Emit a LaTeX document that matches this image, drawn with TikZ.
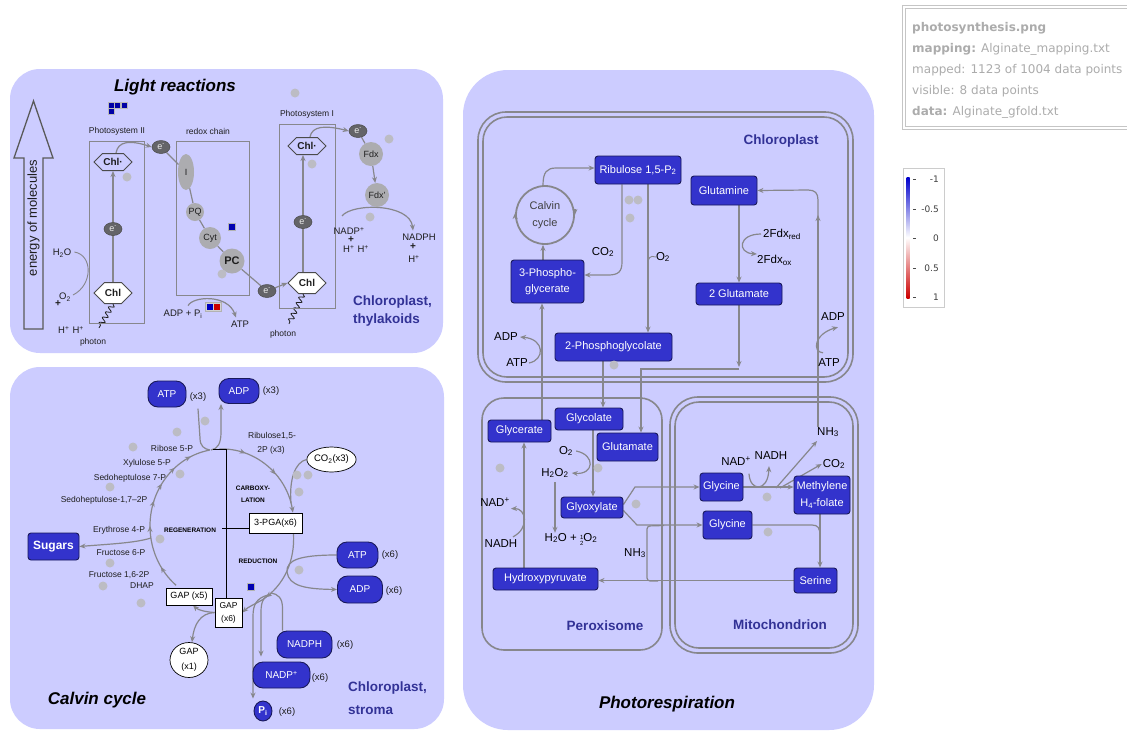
\documentclass[tikz,border=0pt]{standalone}
\usepackage{fontspec}
\setmainfont{Liberation Sans}
\newfontfamily\legendfont{DejaVu Sans}
\usetikzlibrary{arrows.meta,shapes.geometric,shapes.symbols,decorations.pathmorphing,decorations.markings}
\pgfdeclarelayer{bg}
\pgfdeclarelayer{mid}
\pgfsetlayers{bg,mid,main}

\definecolor{panel}{RGB}{204,204,255}
\definecolor{boxblue}{RGB}{51,51,204}
\definecolor{boxedge}{RGB}{25,25,90}
\definecolor{lineg}{RGB}{135,135,140}
\definecolor{dotg}{RGB}{188,188,196}
\definecolor{labblue}{RGB}{50,50,150}
\definecolor{molg}{RGB}{172,172,176}
\definecolor{egray}{RGB}{100,100,104}
\definecolor{leggray}{RGB}{172,172,172}
\definecolor{darktext}{RGB}{30,30,30}

\newcommand{\sz}[1]{\fontsize{#1}{#1}\selectfont}
\newcommand{\halfstack}{\raisebox{-1.5pt}{\sz{6}\begin{tabular}{@{}c@{}}1\\2\end{tabular}}}

\tikzset{
  gtip/.tip={Stealth[length=6pt,width=5pt]},
  compart/.style={draw=lineg, line width=1.6pt},
  bluebox/.style={draw=boxedge, fill=boxblue, text=white, rounded corners=3pt, line width=0.9pt, inner sep=0pt, align=center, font=\sz{11}},
  pill/.style={bluebox, rounded corners=10pt, font=\sz{10}},
  whitebox/.style={draw=black, fill=white, line width=0.7pt, inner sep=0pt, align=center, font=\sz{9}},
  conn/.style={draw=lineg, color=lineg, line width=1.2pt},
  arr/.style={conn, -gtip},
  gdot/.style={circle, fill=dotg, minimum size=9pt, inner sep=0pt},
  mol/.style={circle, fill=molg, inner sep=0pt, font=\sz{9}, text=darktext},
  elec/.style={ellipse, fill=egray, draw=black!70, line width=0.5pt, minimum width=18pt, minimum height=13pt, inner sep=0pt, text=white!85!gray, font=\sz{9}},
  chlstar/.style={signal, signal to=east and west, draw=darktext!80, line width=1pt, fill=panel, minimum width=38pt, minimum height=17pt, inner sep=0pt, font=\bfseries\sz{10}, text=darktext},
  chl/.style={chlstar, fill=white, minimum height=21pt},
  lbl/.style={inner sep=0pt, font=\sz{9.5}, text=darktext},
  plbl/.style={inner sep=0pt, font=\sz{11.5}, text=black},
  small/.style={inner sep=0pt, font=\sz{8.5}, text=darktext},
  caps/.style={inner sep=0pt, font=\bfseries\sz{6.5}, text=black},
  comptitle/.style={inner sep=0pt, font=\bfseries\sz{13.5}, text=labblue},
  maintitle/.style={inner sep=0pt, font=\bfseries\itshape\sz{17}, text=black},
  psbox/.style={draw=lineg, line width=1pt},
  wave/.style={draw=darktext, line width=0.8pt, decorate, decoration={snake, amplitude=2.5pt, segment length=6pt}},
}

\begin{document}
\begin{tikzpicture}[x=1pt,y=-1pt]
\useasboundingbox (0,0) rectangle (1127,732);

% ---------------- background, panels and compartments
\begin{pgfonlayer}{bg}
\fill[white] (0,0) rectangle (1127,732);
\fill[panel, rounded corners=30pt] (10,69) rectangle (443,353);
\fill[panel, rounded corners=30pt] (10,367) rectangle (444,729);
\fill[panel, rounded corners=45pt] (463,70) rectangle (874,730);
\draw[compart, rounded corners=28pt] (478,112) rectangle (853,382);
\draw[compart, rounded corners=24pt] (483,117) rectangle (848,377);
\draw[compart, rounded corners=22pt] (482,398) rectangle (662,650);
\draw[compart, rounded corners=28pt] (670,397) rectangle (858,653);
\draw[compart, rounded corners=24pt] (675,402) rectangle (853,648);
\end{pgfonlayer}

% ================= Light reactions
\node[maintitle] (lrtitle) at (175,87) {Light reactions};
\draw[draw=black!65, line width=1.3pt, fill=panel, line join=miter]
  (33.5,101) -- (53,158) -- (43,158) -- (43,329) -- (24,329) -- (24,158) -- (14,158) -- cycle;
\node[rotate=90, inner sep=0pt, font=\sz{13}, text=darktext] (energy) at (33.5,218) {energy of molecules};
\foreach \x/\y in {108/102, 114.5/102, 121/102, 108/108.5}
  \draw[fill=blue!65!black, draw=gray!55, line width=0.6pt] (\x,\y) rectangle ++(6,6);

\node[small] (ps2lab) at (117,131) {Photosystem II};
\node[small] (redoxlab) at (208,131) {redox chain};
\node[small] (ps1lab) at (307,114) {Photosystem I};
\draw[psbox] (89,141) rectangle (144,323);
\draw[psbox] (176,141) rectangle (249,295);
\draw[psbox] (279,124) rectangle (335,308);

\node[chlstar] (chlS2) at (113,162) {Chl·};
\node[chl] (chl2) at (113,293) {Chl};
\node[elec] (e2mid) at (113,229) {e\textsuperscript{-}};
\node[elec] (e2top) at (161,147) {e\textsuperscript{-}};
\node[mol, ellipse, minimum width=16pt, minimum height=36pt] (cI) at (186,172) {I};
\node[mol, minimum size=18pt] (pq) at (195,212) {PQ};
\node[mol, minimum size=22pt] (cyt) at (210,238) {Cyt};
\node[mol, minimum size=25pt, font=\bfseries\sz{11}] (pc) at (232,261) {PC};
\node[elec] (eb) at (267,291) {e\textsuperscript{-}};
\node[chlstar] (chlS1) at (307,146) {Chl·};
\node[chl] (chl1) at (307,283) {Chl};
\node[elec] (e1mid) at (303,222) {e\textsuperscript{-}};
\node[elec] (e1top) at (358,131) {e\textsuperscript{-}};
\node[mol, minimum size=24pt] (fdx) at (371,154) {Fdx};
\node[mol, minimum size=24pt] (fdxr) at (377,195) {Fdx'};

\foreach \p [count=\i] in {(127,177),(222,274),(312,164),(389,139),(295,93),(370,217)}
  \node[gdot] (ld\i) at \p {};

\draw[fill=blue!70!black, draw=gray!60, line width=0.6pt] (228.5,223.5) rectangle ++(7,7);
\draw[fill=gray!35, draw=gray!60, line width=0.5pt] (205.5,302) rectangle (221,311);
\fill[blue!75!black] (207,304) rectangle (213,310);
\fill[red!80!black] (213.5,304) rectangle (219.5,310);

\node[lbl] (h2o) at (62,253) {H\textsubscript{2}O};
\node[lbl] (o2a) at (65,297) {O\textsubscript{2}};
\node[lbl, font=\bfseries\sz{10}] (plusA) at (58,304) {+};
\node[lbl] (hhA) at (71,330) {H\textsuperscript{+}\,\,H\textsuperscript{+}};
\node[small] (ph2) at (93,342) {photon};
\node[lbl] (adppi) at (183,314) {ADP + P\textsubscript{i}};
\node[lbl] (atpA) at (240,324) {ATP};
\node[small] (ph1) at (283,334) {photon};
\node[lbl] (nadpA) at (349,231) {NADP\textsuperscript{+}};
\node[lbl, font=\bfseries\sz{10}] (plusB) at (351,240) {+};
\node[lbl] (hhB) at (356,249) {H\textsuperscript{+}\,\,H\textsuperscript{+}};
\node[lbl] (nadphA) at (419,237) {NADPH};
\node[lbl, font=\bfseries\sz{10}] (plusC) at (413,247) {+};
\node[lbl] (hC) at (414,259) {H\textsuperscript{+}};
\node[comptitle, anchor=west] (thyl1) at (353,302) {Chloroplast,};
\node[comptitle, anchor=west] (thyl2) at (353,320) {thylakoids};

\begin{pgfonlayer}{mid}
\draw[arr] (chl2.north) -- (chlS2.south);
\draw[arr] ([xshift=3pt]chlS2.north) .. controls (118,141) and (130,140) .. (e2top.west);
\draw[conn] (e2top) -- (cI) -- (pq) -- (cyt) -- (pc) -- (eb);
\draw[arr] (eb) -- (chl1.west);
\draw[arr] ([xshift=-4pt]chl1.north) -- ([xshift=-4pt]chlS1.south);
\draw[arr] ([xshift=3pt]chlS1.north) .. controls (312,126) and (325,125) .. (e1top.west);
\draw[conn] (e1top) -- (fdx);
\draw[arr] (fdx) -- (fdxr);
\draw[arr] ([xshift=-7pt,yshift=11pt]nadpA.north) .. controls (352,203) and (410,203) .. ([xshift=-6pt,yshift=3pt]nadphA.north);
\draw[arr] ([xshift=5pt,yshift=4pt]adppi.north) .. controls (193,296) and (228,294) .. ([xshift=-4pt,yshift=3pt]atpA.north);
\draw[conn, line width=0.9pt] ([xshift=3pt,yshift=1pt]h2o.east) .. controls (93,255) and (93,285) .. ([xshift=2pt,yshift=2pt]o2a.east);
\draw[wave] (chl2.south) -- ([xshift=6pt,yshift=10pt]ph2.north);
\draw[wave] ([xshift=-4pt]chl1.south) -- ([xshift=6pt,yshift=6pt]ph1.north);
\end{pgfonlayer}

% ================= Calvin cycle
\node[maintitle] (cctitle) at (97,700) {Calvin cycle};
\node[pill, minimum width=38pt, minimum height=26pt] (atp3) at (167,394) {ATP};
\node[pill, minimum width=40pt, minimum height=25pt] (adp3) at (239,391) {ADP};
\node[lbl] (x3a) at (198,397) {(x3)};
\node[lbl] (x3b) at (271,391) {(x3)};
\node[bluebox, font=\bfseries\sz{12}, minimum width=51pt, minimum height=27pt] (sugars) at (53.5,546.5) {Sugars};
\node[pill, minimum width=41pt, minimum height=26pt] (atp6) at (357.5,555) {ATP};
\node[pill, minimum width=45pt, minimum height=27pt] (adp6) at (360,589.5) {ADP};
\node[pill, minimum width=55pt, minimum height=27pt] (nadph6) at (304.5,644.5) {NADPH};
\node[pill, minimum width=57pt, minimum height=26pt] (nadp6) at (281.5,675) {NADP\textsuperscript{+}};
\node[ellipse, draw=boxedge, fill=boxblue, line width=0.9pt, text=white, inner sep=0pt, minimum width=18pt, minimum height=20pt, font=\bfseries\sz{10}] (pi6) at (263,711) {P\textsubscript{i}};
\node[lbl] (x6a) at (390,555) {(x6)};
\node[lbl] (x6b) at (394,591) {(x6)};
\node[lbl] (x6c) at (345,645) {(x6)};
\node[lbl] (x6d) at (320,678) {(x6)};
\node[lbl] (x6e) at (287,712) {(x6)};

\node[whitebox, minimum width=53pt, minimum height=20pt] (pga) at (275.5,523) {3-PGA(x6)};
\node[whitebox, minimum width=27pt, minimum height=29pt, font=\fontsize{8.5}{13}\selectfont] (gap6) at (228.5,612.5) {GAP\\(x6)};
\node[whitebox, minimum width=46pt, minimum height=17pt] (gap5) at (189,596.5) {GAP (x5)};
\node[whitebox, ellipse, minimum width=38pt, minimum height=35pt, font=\fontsize{9}{15}\selectfont] (gap1) at (189,660) {GAP\\(x1)};
\node[whitebox, ellipse, minimum width=47pt, minimum height=25pt, font=\sz{9.5}] (co2c) at (331.5,459.5) {CO\textsubscript{2}(x3)};

\node[small] (rib5) at (172,448) {Ribose 5-P};
\node[small] (xyl5) at (147,463) {Xylulose 5-P};
\node[small] (sed7) at (130,478) {Sedoheptulose 7-P};
\node[small] (sed17) at (104,500) {Sedoheptulose-1,7–2P};
\node[small] (ery4) at (119,530) {Erythrose 4-P};
\node[small] (fru6) at (121,553) {Fructose 6-P};
\node[small] (fru16) at (119,575) {Fructose 1,6-2P};
\node[small] (dhap) at (142,586) {DHAP};
\node[small] (rubp) at (272,436) {Ribulose1,5-};
\node[small] (rubp2) at (271,450) {2P (x3)};
\node[caps, align=center, font=\bfseries\fontsize{6.5}{12}\selectfont] (carb) at (253,494) {CARBOXY-\\LATION};
\node[caps] (regen) at (190,530) {REGENERATION};
\node[caps] (reduc) at (258,561) {REDUCTION};
\node[comptitle, anchor=west] (str1) at (348,688) {Chloroplast,};
\node[comptitle, anchor=west] (str2) at (348,710) {stroma};

\foreach \p [count=\i] in {(205,421),(177,432),(133,447),(180,474),(110,487),(160,539),(110,563),(103,586),(141,603),(297,475),(308,475),(299,492),(299,570)}
  \node[gdot] (cd\i) at \p {};
\draw[fill=blue!70!black, draw=gray!60, line width=0.6pt] (247.5,583.5) rectangle ++(7,7);

\begin{pgfonlayer}{mid}
% cycle, right half: regeneration product to carboxylation
\draw[arr, postaction={decorate}, decoration={markings,
   mark=at position 0.25 with {\arrow{gtip}}, mark=at position 0.6 with {\arrow{gtip}}}]
  (219.5,449) arc[start angle=92, end angle=10, x radius=72pt, y radius=77pt];
% reduction
\draw[arr, postaction={decorate}, decoration={markings, mark=at position 0.72 with {\arrow{gtip}}}]
  ([xshift=18pt]pga.south) .. controls (295,560) and (285,585) .. (262,600) .. controls (255,604) and (248,607) .. (gap6.east);
% regeneration
\draw[conn, postaction={decorate}, decoration={markings,
   mark=at position 0.14 with {\arrow{gtip}}, mark=at position 0.39 with {\arrow{gtip}},
   mark=at position 0.54 with {\arrow{gtip}}, mark=at position 0.65 with {\arrow{gtip}},
   mark=at position 0.77 with {\arrow{gtip}}, mark=at position 0.885 with {\arrow{gtip}}}]
  (176.1,585.3) arc[start angle=230.4, end angle=100, x radius=72pt, y radius=77pt];
\draw[arr] (151,538) .. controls (135,543) and (110,544) .. (sugars.east);
\draw[conn] ([yshift=-7pt]x3a.south) -- (200,438) .. controls (200,446) and (204,449) .. (210,450);
\draw[arr] (211,450) .. controls (218,449) and (221,443) .. (221,432) -- ([xshift=-18pt]adp3.south);
\draw[conn] (co2c.west) .. controls (295,462) and (289,480) .. (291,503);
\draw[arr] (atp6.west) .. controls (300,555) and (286,560) .. (287,572) .. controls (289,586) and (305,589) .. (adp6.west);
\draw[conn] ([xshift=-22pt]nadph6.north) -- (282.5,608) .. controls (282.5,598) and (278,594) .. (271,593);
\draw[arr] (271,594) .. controls (264,596) and (261,601) .. (261,612) -- ([xshift=-20.5pt,yshift=5pt]nadp6.north);
\draw[arr] (268,595) .. controls (257,598) and (253,604) .. (253,616) -- ([xshift=-10pt,yshift=2pt]pi6.north);
\draw[arr] (gap6.west) .. controls (206,612) and (198,610) .. ([xshift=4pt]gap5.south);
\draw[arr] (gap6.west) .. controls (200,613) and (194,625) .. ([xshift=3pt]gap1.north);
\draw[black, line width=0.8pt] (213,449) -- (226,449) -- (226,598);
\draw[black, line width=0.8pt] (222,528) -- (pga.west |- 0,528);
\end{pgfonlayer}

% ================= Photorespiration
\node[maintitle] (prtitle) at (667,704) {Photorespiration};
\node[comptitle] (chlab) at (781,141) {Chloroplast};
\node[comptitle] (perlab) at (605,626) {Peroxisome};
\node[comptitle] (mitlab) at (780,625) {Mitochondrion};

\node[bluebox, minimum width=86pt, minimum height=28pt] (ribu) at (638,170) {Ribulose 1,5-P\textsubscript{2}};
\node[circle, draw=lineg, line width=1.8pt, minimum size=58pt, inner sep=0pt, align=center, font=\fontsize{11}{17}\selectfont, text=darktext!85] (calv) at (545,215) {Calvin\\cycle};
\node[bluebox, minimum width=73pt, minimum height=43pt, font=\fontsize{11}{16}\selectfont] (pga3) at (547.5,281.5) {3-Phospho-\\glycerate};
\node[bluebox, minimum width=117pt, minimum height=28pt] (pglyc2) at (613.5,347) {2-Phosphoglycolate};
\node[bluebox, minimum width=66pt, minimum height=29pt] (glutamine) at (724,190.5) {Glutamine};
\node[bluebox, minimum width=86pt, minimum height=22pt] (glu2) at (739,294) {2 Glutamate};
\node[bluebox, minimum width=63pt, minimum height=22pt] (glycerate) at (519.5,431) {Glycerate};
\node[bluebox, minimum width=68pt, minimum height=22pt] (glycolate) at (589,419) {Glycolate};
\node[bluebox, minimum width=61pt, minimum height=28pt] (glutamate) at (627.5,447) {Glutamate};
\node[bluebox, minimum width=62pt, minimum height=21pt] (glyox) at (592,507.5) {Glyoxylate};
\node[bluebox, minimum width=105pt, minimum height=22pt] (hydroxy) at (545.5,579) {Hydroxypyruvate};
\node[bluebox, minimum width=43pt, minimum height=28pt] (gly1) at (721.5,487) {Glycine};
\node[bluebox, minimum width=49pt, minimum height=28pt] (gly2) at (727.5,525) {Glycine};
\node[bluebox, minimum width=56pt, minimum height=38pt, font=\fontsize{11}{17}\selectfont] (methyl) at (822,495) {Methylene\\H\textsubscript{4}-folate};
\node[bluebox, minimum width=43pt, minimum height=25pt] (serine) at (815.5,580.5) {Serine};

\node[plbl] (co2p) at (603,252) {CO\textsubscript{2}};
\node[plbl] (o2p) at (663,257) {O\textsubscript{2}};
\node[plbl] (adpL) at (506,337) {ADP};
\node[plbl] (atpL) at (517,363) {ATP};
\node[plbl, anchor=west] (fdxred) at (763,234) {2Fdx\textsubscript{red}};
\node[plbl, anchor=west] (fdxox) at (757,260) {2Fdx\textsubscript{ox}};
\node[plbl] (adpR) at (833,317) {ADP};
\node[plbl] (atpR) at (829,363) {ATP};
\node[plbl] (nadP) at (495,502) {NAD\textsuperscript{+}};
\node[plbl] (nadhP) at (501,544) {NADH};
\node[plbl] (o2x) at (566,451) {O\textsubscript{2}};
\node[plbl] (h2o2) at (555,473) {H\textsubscript{2}O\textsubscript{2}};
\node[plbl] (h2oh) at (571,540) {H\textsubscript{2}O + \halfstack O\textsubscript{2}};
\node[plbl] (nh3a) at (635,553) {NH\textsubscript{3}};
\node[plbl] (nadM) at (736,461) {NAD\textsuperscript{+}};
\node[plbl] (nadhM) at (771,456) {NADH};
\node[plbl] (nh3b) at (828,432) {NH\textsubscript{3}};
\node[plbl] (co2M) at (834,464) {CO\textsubscript{2}};

\foreach \p [count=\i] in {(629,200),(638,200),(630,218),(614,365),(500,468),(598,468),(636,504),(767,497),(768,532)}
  \node[gdot] (pd\i) at \p {};

\begin{pgfonlayer}{mid}
\draw[conn, -gtip] ([yshift=-4pt]calv.west) -- ([yshift=2pt]calv.west);
\draw[conn, -gtip] ([yshift=6pt]calv.east) -- ([yshift=0pt]calv.east);
\draw[arr] ([xshift=-2pt]calv.north) .. controls (543,172) and (547,168) .. (556,168) -- ([yshift=2pt]ribu.west);
\draw[arr] ([xshift=-4.5pt]pga3.north) -- ([xshift=-2pt]calv.south);
\draw[arr] ([xshift=-16pt]ribu.south) -- (622,262) .. controls (622,272) and (618,275) .. (608,275) -- ([yshift=6.5pt]pga3.east);
\draw[arr] ([xshift=10pt]ribu.south) -- ([xshift=34.5pt]pglyc2.north);
\draw[conn, line width=0.9pt] (o2p.west) .. controls (650,255) and (648,258) .. (648,264);
\draw[arr] ([xshift=1pt]atpL.east) .. controls (545,360) and (545,339) .. ([xshift=2pt]adpL.east);
\draw[arr] ([xshift=-10.5pt]pglyc2.south) -- ([xshift=14pt]glycolate.north);
\draw[arr] (glu2.south) -- (739,367);
\draw[arr] (739,369) -| ([xshift=13.5pt]glutamate.north);
\draw[arr] (glu2.north |- glutamine.south) -- (glu2.north);
\draw[arr] ([xshift=-2pt]fdxred.west) .. controls (738,234) and (737,253) .. ([yshift=6pt]fdxox.west);
\draw[arr] ([xshift=-10pt]nh3b.north) -- (818,215);
\draw[arr] (818,217) -- (818,200) .. controls (818,193) and (815,190) .. (808,190) -- (glutamine.east);
\draw[arr] ([xshift=-6pt,yshift=6pt]atpR.north) .. controls (812,352) and (814,334) .. ([xshift=5pt,yshift=-6pt]adpR.south);
% peroxisome
\draw[arr] ([xshift=22.5pt]glycerate.north) -- ([xshift=-5.5pt]pga3.south);
\draw[arr] ([xshift=-21.5pt]hydroxy.north) -- ([xshift=4.5pt]glycerate.south);
\draw[arr] ([xshift=12pt,yshift=3pt]nadhP.north) .. controls (530,528) and (526,508) .. ([xshift=1pt,yshift=-2pt]nadP.south east);
\draw[arr] ([xshift=4pt]glycolate.south) -- ([xshift=1pt]glyox.north);
\draw[arr] ([xshift=3pt]o2x.east) .. controls (596,455) and (594,475) .. ([xshift=3pt]h2o2.east);
\draw[arr] ([yshift=-4pt]h2o2.south) -- (h2o2.south |- h2oh.north);
\draw[arr] ([yshift=3pt]glyox.east) -- (635,487) -- (gly1.west);
\draw[arr] ([yshift=-3pt]glyox.east) -- (637,525) -- (gly2.west);
\draw[conn, rounded corners=3pt] (664,525.5) -- (647,526) -- (647,581) -- (658,581);
\draw[arr] (serine.west) -- (serine.west -| hydroxy.east);
% mitochondrion
\draw[arr] (gly1.east) -- (gly1.east -| methyl.west);
\draw[arr] ([xshift=13pt,yshift=-8pt]nadM.south) .. controls (750,492) and (768,492) .. ([xshift=-2pt,yshift=-6pt]nadhM.south);
\draw[arr] (776,488) -- ([xshift=-11pt,yshift=-4pt]nh3b.south);
\draw[arr] (780,488) -- ([xshift=-1pt]co2M.west);
\draw[arr] ([xshift=-2pt]methyl.south) -- ([xshift=4.5pt]serine.north);
\draw[conn] (gly2.east) -- (812,525) .. controls (818,525) and (820,528) .. (820,536);
\end{pgfonlayer}

% ================= info box and colour scale
\draw[leggray!70, line width=1pt] (902,5) rectangle (1140,129);
\draw[leggray!70, line width=1pt] (905,8) rectangle (1140,126);
\begin{scope}[every node/.style={anchor=west, inner sep=0pt, font=\legendfont\sz{12}, text=leggray}]
\node (lg1) at (912,28) {\textbf{photosynthesis.png}};
\node (lg2) at (912,49) {\textbf{mapping:} Alginate\_mapping.txt};
\node (lg3) at (912,70) {mapped: 1123 of 1004 data points};
\node (lg4) at (912,91) {visible: 8 data points};
\node (lg5) at (912,112) {\textbf{data:} Alginate\_gfold.txt};
\end{scope}
\draw[gray!40, line width=1pt] (903,168) rectangle (944,307);
\shade[top color=blue!80!black, bottom color=red!80!black, middle color=white] (906.5,177) rectangle (909.5,298);
\foreach \y/\t [count=\i] in {179/-1, 209/-0.5, 238/0, 268/0.5, 297/1} {
  \draw[darktext!80, line width=0.6pt] (913,\y) -- (916,\y);
  \node[anchor=east, inner sep=0pt, font=\legendfont\sz{9}, text=darktext!85] (sc\i) at (939,\y) {\t};
}
\end{tikzpicture}
\end{document}
